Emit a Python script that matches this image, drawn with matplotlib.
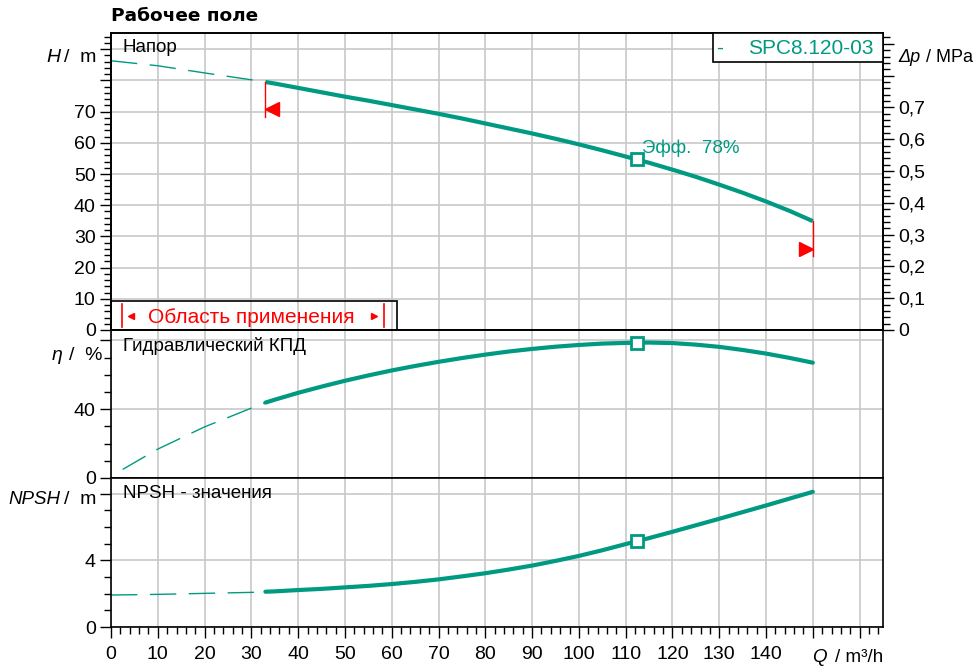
# Pump curve chart: SPC8.120-03, head / efficiency / NPSH vs flow

import numpy as np
import matplotlib.pyplot as plt
from matplotlib.ticker import MultipleLocator, FuncFormatter
from matplotlib.patches import Rectangle

plt.rcParams['font.family'] = ['Liberation Sans', 'DejaVu Sans']

# ---- data (Q in m3/h) ----
q_ext = [0, 10, 20, 30, 33]                      # outside operating range (dashed)
h_ext = [86.3, 84.7, 82.4, 80.2, 79.5]
q_op = [33, 35, 40, 45, 50, 55, 60, 65, 70, 75, 80, 85, 90, 95, 100,
        105, 110, 115, 120, 125, 130, 135, 140, 145, 150]
h_op = [79.5, 79.0, 77.6, 76.2, 74.8, 73.5, 72.1, 70.7, 69.3, 67.8, 66.2, 64.6,
        63.0, 61.3, 59.5, 57.6, 55.6, 53.6, 51.4, 49.1, 46.6, 44.0, 41.2, 38.2, 34.9]

q_eta_ext = [2.5, 10, 20, 30, 33]
eta_ext = [5.0, 16.8, 29.7, 40.6, 43.8]
eta_op = [43.8, 45.5, 49.5, 53.1, 56.5, 59.6, 62.5, 65.1, 67.5, 69.7, 71.7, 73.5,
          75.0, 76.3, 77.3, 78.1, 78.5, 78.7, 78.4, 77.5, 76.2, 74.4, 72.3, 69.8, 67.0]

npsh_ext = [1.92, 1.96, 2.02, 2.08, 2.12]
npsh_op = [2.12, 2.14, 2.22, 2.29, 2.38, 2.47, 2.58, 2.71, 2.86, 3.04, 3.23, 3.45,
           3.69, 3.97, 4.27, 4.61, 4.98, 5.34, 5.72, 6.11, 6.50, 6.90, 7.30, 7.71, 8.12]

q_bep = 112.5
h_bep = 54.7
eta_bep = 78.6
npsh_bep = 5.18

MPA_PER_M = 0.00981   # water, rho*g

teal = '#009a82'
red = '#ff0000'
grid_c = '#c8c8c8'

fig = plt.figure(figsize=(9.77, 6.72), dpi=100)
L, W = 111 / 977, 772 / 977
ax_h = fig.add_axes([L, 1 - 330 / 672, W, 297 / 672])
ax_e = fig.add_axes([L, 1 - 478 / 672, W, 148 / 672])
ax_n = fig.add_axes([L, 1 - 627 / 672, W, 149 / 672])


def label_fmt(limit):
    return FuncFormatter(lambda v, p: '' if v > limit else f'{v:g}')


for ax in (ax_h, ax_e, ax_n):
    ax.set_xlim(0, 165)
    ax.xaxis.set_major_locator(MultipleLocator(10))
    ax.xaxis.set_minor_locator(MultipleLocator(2))
    ax.grid(True, which='major', color=grid_c, lw=1.2)
    ax.set_axisbelow(True)
    for s in ax.spines.values():
        s.set_linewidth(1.2)
        s.set_color('black')
    ax.tick_params(axis='y', which='major', direction='out', length=8, width=1,
                   labelsize=14, pad=3)
    ax.tick_params(axis='y', which='minor', direction='out', length=5, width=1)

for ax in (ax_h, ax_e):
    ax.tick_params(axis='x', which='both', length=0, labelbottom=False)

ax_n.tick_params(axis='x', which='major', direction='out', length=8, width=1,
                 labelsize=14, pad=6)
ax_n.tick_params(axis='x', which='minor', direction='out', length=5, width=1)
ax_n.xaxis.set_major_formatter(label_fmt(145))

# ---- head ----
ax_h.set_ylim(0, 95.2)
ax_h.yaxis.set_major_locator(MultipleLocator(10))
ax_h.yaxis.set_minor_locator(MultipleLocator(2))
ax_h.yaxis.set_major_formatter(label_fmt(75))
ax_h.plot(q_ext, h_ext, color=teal, lw=1, dashes=(19, 9))
ax_h.plot(q_op, h_op, color=teal, lw=3, solid_capstyle='butt', solid_joinstyle='round')
ax_h.plot(q_bep, h_bep, 's', ms=8, mfc='white', mec=teal, mew=2)
ax_h.text(q_bep + 1, 58.4, 'Эфф.  78%', color=teal, fontsize=13.5, va='center')

# operating limits
ax_h.plot([q_op[0], q_op[0]], [h_op[0], h_op[0] - 11.2], color=red, lw=1)
ax_h.plot(q_op[0] + 1.5, 70.9, '<', color=red, ms=10)
ax_h.plot([q_op[-1], q_op[-1]], [h_op[-1], h_op[-1] - 11.2], color=red, lw=1)
ax_h.plot(q_op[-1] - 1.5, 26.0, '>', color=red, ms=10)

# "Область применения" box
ax_h.add_patch(Rectangle((0, 0), 61.2, 9.3, fill=False, ec='black', lw=1.2, zorder=4))
ax_h.plot([2.4, 2.4], [0.9, 8.3], color=red, lw=1.2)
ax_h.plot([58.3, 58.3], [0.9, 8.3], color=red, lw=1.2)
ax_h.plot(4.3, 4.6, '<', color=red, ms=5)
ax_h.plot(56.3, 4.6, '>', color=red, ms=5)
ax_h.text(30, 3.9, 'Область применения', color=red, fontsize=15, ha='center', va='center')

# right axis: pressure
ax_p = ax_h.twinx()
ax_p.set_ylim(0, 95.2 * MPA_PER_M)
ax_p.yaxis.set_major_locator(MultipleLocator(0.1))
ax_p.yaxis.set_minor_locator(MultipleLocator(0.02))
ax_p.yaxis.set_major_formatter(FuncFormatter(
    lambda v, p: '' if v > 0.75 else ('0' if abs(v) < 1e-9 else f'{v:.1f}'.replace('.', ','))))
ax_p.tick_params(axis='y', which='major', direction='out', length=8, width=1,
                 labelsize=14, pad=3)
ax_p.tick_params(axis='y', which='minor', direction='out', length=5, width=1)
for s in ax_p.spines.values():
    s.set_linewidth(1.2)

# ---- efficiency ----
ax_e.set_ylim(0, 86)
ax_e.set_yticks([0, 40, 80])
ax_e.yaxis.set_minor_locator(MultipleLocator(10))
ax_e.yaxis.set_major_formatter(label_fmt(60))
ax_e.plot(q_eta_ext, eta_ext, color=teal, lw=1, dashes=(19, 9))
ax_e.plot(q_op, eta_op, color=teal, lw=3, solid_capstyle='round', solid_joinstyle='round')
ax_e.plot(q_bep, eta_bep, 's', ms=8, mfc='white', mec=teal, mew=2)

# ---- NPSH ----
ax_n.set_ylim(0, 8.95)
ax_n.set_yticks([0, 4, 8])
ax_n.yaxis.set_minor_locator(MultipleLocator(1))
ax_n.yaxis.set_major_formatter(label_fmt(6))
ax_n.plot(q_ext, npsh_ext, color=teal, lw=1, dashes=(19, 9))
ax_n.plot(q_op, npsh_op, color=teal, lw=3, solid_capstyle='round', solid_joinstyle='round')
ax_n.plot(q_bep, npsh_bep, 's', ms=8, mfc='white', mec=teal, mew=2)


# ---- texts (pixel positions converted to figure coords) ----
def ftext(x, y, s, **kw):
    kw.setdefault('va', 'center')
    kw.setdefault('fontsize', 14)
    fig.text(x / 977, 1 - y / 672, s, **kw)


ftext(111, 16, 'Рабочее поле', family='DejaVu Sans', fontweight='bold', fontsize=13.3)
ftext(123, 48, 'Напор', fontsize=13.5)
ftext(123, 346, 'Гидравлический КПД', fontsize=13.5)
ftext(123, 494, 'NPSH - значения', fontsize=13.5)

ftext(46, 57, 'H', style='italic')
ftext(64, 57, '/  m')
ftext(52, 355, 'η', style='italic')
ftext(69, 355, '/  %')
ftext(8, 500, 'NPSH', style='italic', fontsize=13.5)
ftext(64, 500, '/  m')
ftext(812, 657, 'Q', style='italic', fontsize=13.5)
ftext(835, 657, '/ m³/h', fontsize=13.5)
ftext(898, 57, 'Δp', style='italic', fontsize=13)
ftext(926, 57, '/ MPa', fontsize=13)

# legend box
fig.patches.append(Rectangle((713 / 977, 1 - 62 / 672), 170 / 977, 29 / 672,
                             transform=fig.transFigure, fc='white', ec='black',
                             lw=1.2, zorder=5))
ftext(716, 48, '-', color=teal, fontsize=15, zorder=6)
ftext(748, 48, 'SPC8.120-03', color=teal, fontsize=15, zorder=6)

fig.savefig('out.png', dpi=100)
